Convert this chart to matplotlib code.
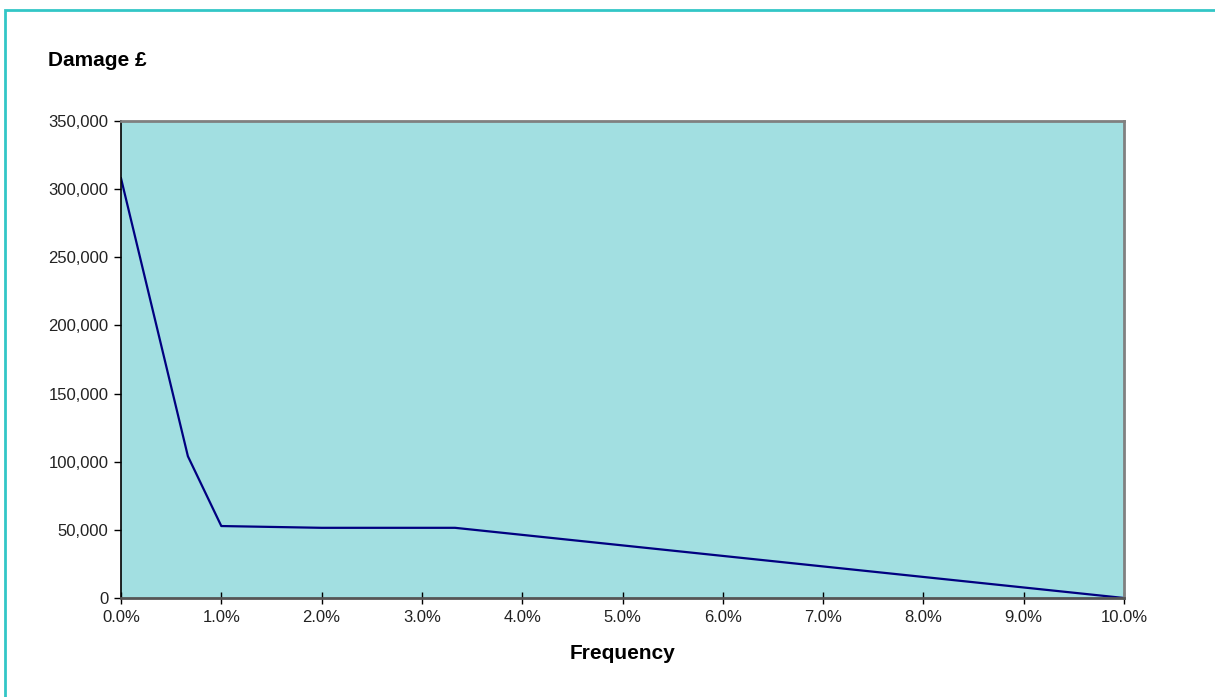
import matplotlib.pyplot as plt
from matplotlib.patches import Rectangle
from matplotlib.ticker import FuncFormatter

plt.rcParams['font.family'] = ['Liberation Sans', 'DejaVu Sans']

# frequency (%) vs damage (GBP)
frequency = [0.0, 0.667, 1.0, 2.0, 3.33, 10.0]
damage = [308000, 104000, 52800, 51500, 51500, 0]

xticks = [0, 1, 2, 3, 4, 5, 6, 7, 8, 9, 10]
yticks = [0, 50000, 100000, 150000, 200000, 250000, 300000, 350000]

fig = plt.figure(figsize=(12.15, 6.97), dpi=100)
W, H = 1215, 697

# teal frame around the chart (runs off right and bottom edges)
fig.patches.append(Rectangle((5 / W, -0.05), 1.1, (H - 10) / H + 0.05,
                             transform=fig.transFigure, fill=False,
                             edgecolor='#33c6c6', linewidth=2))

ax = fig.add_axes([121 / W, (H - 598) / H, (1124 - 121) / W, (598 - 121) / H])
ax.set_facecolor('#a2dfe1')
ax.plot(frequency, damage, color='#000080', linewidth=1.6)

ax.set_xlim(0, 10)
ax.set_ylim(0, 350000)
ax.set_xticks(xticks)
ax.set_yticks(yticks)
ax.xaxis.set_major_formatter(FuncFormatter(lambda v, p: f'{v:.1f}%'))
ax.yaxis.set_major_formatter(FuncFormatter(lambda v, p: f'{int(v):,}'))
ax.tick_params(axis='x', direction='inout', length=9, width=1, colors='black',
               labelsize=12, labelcolor='#222222', pad=4)
ax.tick_params(axis='y', direction='out', length=5, width=1, colors='black',
               labelsize=12, labelcolor='#222222', pad=4)

ax.spines['left'].set_color('black')
ax.spines['left'].set_linewidth(1.2)
ax.spines['bottom'].set_color('#555555')
ax.spines['bottom'].set_linewidth(2)
ax.spines['top'].set_color('#808080')
ax.spines['top'].set_linewidth(2)
ax.spines['right'].set_color('#808080')
ax.spines['right'].set_linewidth(2)

fig.text(48 / W, 1 - 61 / H, 'Damage £', fontsize=15, fontweight='bold',
         ha='left', va='center')
ax.set_xlabel('Frequency', fontsize=15, fontweight='bold', labelpad=14)

fig.savefig('out.png', dpi=100)
